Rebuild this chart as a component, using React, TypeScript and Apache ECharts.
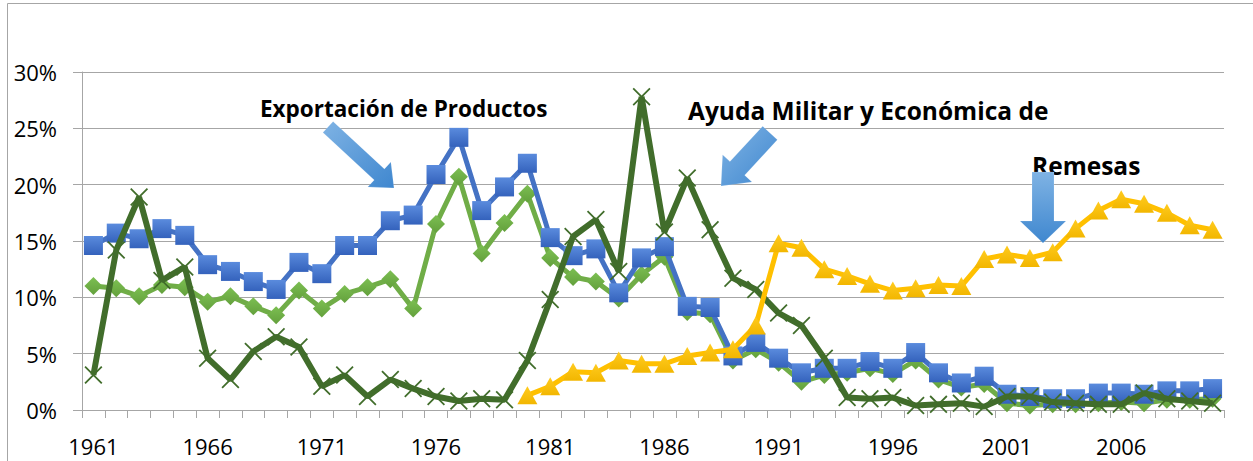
import React, { useEffect, useRef } from 'react';
import * as echarts from 'echarts';

const years = [
  '1961', '1962', '1963', '1964', '1965', '1966', '1967', '1968', '1969', '1970',
  '1971', '1972', '1973', '1974', '1975', '1976', '1977', '1978', '1979', '1980',
  '1981', '1982', '1983', '1984', '1985', '1986', '1987', '1988', '1989', '1990',
  '1991', '1992', '1993', '1994', '1995', '1996', '1997', '1998', '1999', '2000',
  '2001', '2002', '2003', '2004', '2005', '2006', '2007', '2008', '2009', '2010',
];

// Blue squares
const exportacionesTotales = [
  14.6, 15.7, 15.2, 16.1, 15.5, 12.9, 12.3, 11.4, 10.7, 13.1,
  12.1, 14.6, 14.6, 16.8, 17.3, 20.9, 24.2, 17.7, 19.8, 21.9,
  15.3, 13.7, 14.3, 10.4, 13.5, 14.5, 9.2, 9.1, 4.8, 6.0,
  4.6, 3.3, 3.7, 3.7, 4.3, 3.7, 5.1, 3.3, 2.4, 3.0,
  1.4, 1.2, 1.0, 1.0, 1.5, 1.5, 1.4, 1.7, 1.7, 1.9,
];

// Light green diamonds
const exportacionProductos = [
  11.0, 10.8, 10.1, 11.1, 10.9, 9.6, 10.1, 9.2, 8.4, 10.6,
  9.0, 10.3, 10.9, 11.6, 9.0, 16.5, 20.7, 13.9, 16.6, 19.2,
  13.5, 11.8, 11.4, 9.9, 12.0, 13.6, 8.7, 8.5, 4.4, 5.4,
  4.2, 2.5, 3.1, 3.3, 3.7, 3.2, 4.4, 2.7, 2.0, 2.3,
  0.6, 0.4, 0.5, 0.5, 0.6, 0.7, 0.6, 0.9, 0.9, 1.0,
];

// Dark green crosses
const ayudaMilitarEconomica = [
  3.1, 14.2, 18.9, 11.5, 12.7, 4.6, 2.7, 5.2, 6.5, 5.6,
  2.1, 3.1, 1.2, 2.7, 1.9, 1.2, 0.8, 1.0, 0.9, 4.4,
  9.8, 15.4, 16.9, 12.3, 27.8, 15.8, 20.6, 16.0, 11.7, 10.7,
  8.6, 7.5, 4.6, 1.1, 1.0, 1.1, 0.4, 0.5, 0.6, 0.3,
  1.2, 1.2, 0.7, 0.6, 0.5, 0.5, 1.5, 1.0, 0.8, 0.6,
];

// Yellow triangles
const remesas = [
  null, null, null, null, null, null, null, null, null, null,
  null, null, null, null, null, null, null, null, null, 1.3,
  2.1, 3.4, 3.3, 4.4, 4.1, 4.1, 4.8, 5.1, 5.4, 7.5,
  14.8, 14.4, 12.5, 11.9, 11.2, 10.6, 10.8, 11.1, 11.0, 13.4,
  13.8, 13.5, 14.0, 16.1, 17.7, 18.7, 18.3, 17.5, 16.4, 16.0,
];

const yTicks = [0, 5, 10, 15, 20, 25, 30];

const annotations = [
  { text: 'Exportación de Productos', x: 260, y: 108.5, size: 22.5 },
  { text: 'Ayuda Militar y Económica de', x: 688, y: 110.5, size: 24.5 },
  { text: 'Remesas', x: 1032, y: 165, size: 24.5 },
];

const arrowsDef = [
  { sx: 328, sy: 127, tx: 394, ty: 188, sw: 15, hw: 34, hl: 20 },
  { sx: 770, sy: 133, tx: 721, ty: 186, sw: 20, hw: 40, hl: 24 },
  { sx: 1043, sy: 172, tx: 1043, ty: 243, sw: 22, hw: 46, hl: 22 },
];

function arrowPoints(a: any) {
  const dx = a.tx - a.sx;
  const dy = a.ty - a.sy;
  const L = Math.hypot(dx, dy);
  const ux = dx / L;
  const uy = dy / L;
  const px = -uy;
  const py = ux;
  const bx = a.tx - ux * a.hl;
  const by = a.ty - uy * a.hl;
  const s = a.sw / 2;
  const h = a.hw / 2;
  return [
    [a.sx + px * s, a.sy + py * s],
    [bx + px * s, by + py * s],
    [bx + px * h, by + py * h],
    [a.tx, a.ty],
    [bx - px * h, by - py * h],
    [bx - px * s, by - py * s],
    [a.sx - px * s, a.sy - py * s],
  ];
}

const crossPath = 'path://M0,0.7L0.7,0L10,9.3L9.3,10Z M9.3,0L10,0.7L0.7,10L0,9.3Z';

export default function App() {
  const ref = useRef<HTMLDivElement>(null);
  useEffect(() => {
    if (!ref.current) return;
    const chart = echarts.init(ref.current, null, { renderer: 'svg' });
    const font = "'Open Sans', sans-serif";
    const grad = (c1: string, c2: string) =>
      new echarts.graphic.LinearGradient(0, 0, 0, 1, [
        { offset: 0, color: c1 },
        { offset: 1, color: c2 },
      ]);
    const graphic: any[] = [
      {
        type: 'rect',
        shape: { x: 7.5, y: 3.5, width: 1300, height: 500 },
        style: { fill: 'none', stroke: '#A6A6A6', lineWidth: 1 },
        silent: true,
        z: -1,
      },
    ];
    annotations.forEach((a) => {
      graphic.push({
        type: 'text',
        x: a.x,
        y: a.y,
        style: {
          text: a.text,
          fontFamily: font,
          fontWeight: 'bold',
          fontSize: a.size,
          fill: '#000',
          align: 'left',
          verticalAlign: 'middle',
        },
        z: 100,
      });
    });
    arrowsDef.forEach((a) => {
      graphic.push({
        type: 'polygon',
        shape: { points: arrowPoints(a) },
        style: {
          fill: new echarts.graphic.LinearGradient(0, 0, a.sx === a.tx ? 0 : 1, 1, [
            { offset: 0, color: '#7FB3E4' },
            { offset: 1, color: '#3F87CF' },
          ]),
          stroke: 'rgba(255,255,255,0.3)',
          lineWidth: 0.5,
        },
        z: 100,
      });
    });

    chart.setOption({
      animation: false,
      backgroundColor: '#fff',
      grid: { left: 82, right: 29, top: 72, bottom: 51, containLabel: false },
      xAxis: {
        type: 'category',
        data: years,
        boundaryGap: true,
        axisLine: { show: true, lineStyle: { color: '#A6A6A6', width: 1 } },
        axisTick: { show: true, interval: 0, length: 8, lineStyle: { color: '#A6A6A6' } },
        axisLabel: { interval: 4, fontSize: 22, fontFamily: font, color: '#000', margin: 25 },
        splitLine: { show: false },
      },
      yAxis: {
        type: 'value',
        min: yTicks[0],
        max: yTicks[yTicks.length - 1],
        interval: 5,
        axisLine: { show: true, lineStyle: { color: '#A6A6A6', width: 1 } },
        axisTick: { show: true, length: 9, lineStyle: { color: '#A6A6A6' } },
        axisLabel: { formatter: '{value}%', fontSize: 22, fontFamily: font, color: '#000', margin: 25 },
        splitLine: { show: true, lineStyle: { color: '#A6A6A6', width: 1 } },
      },
      series: [
        {
          name: 'Exportación de Productos',
          type: 'line',
          data: exportacionProductos,
          symbol: 'diamond',
          symbolSize: [18, 18],
          showAllSymbol: true,
          lineStyle: { color: '#70AD47', width: 5 },
          itemStyle: { color: grad('#7CBF52', '#63A03C') },
          z: 2,
        },
        {
          name: 'Exportaciones',
          type: 'line',
          data: exportacionesTotales,
          symbol: 'rect',
          symbolSize: 19,
          showAllSymbol: true,
          lineStyle: { color: '#4472C4', width: 5 },
          itemStyle: { color: grad('#5A8BDD', '#3462BC') },
          z: 3,
        },
        {
          name: 'Ayuda Militar y Económica',
          type: 'line',
          data: ayudaMilitarEconomica,
          symbol: crossPath,
          symbolSize: 18,
          showAllSymbol: true,
          lineStyle: { color: '#416D2B', width: 6 },
          itemStyle: { color: '#416D2B' },
          z: 4,
        },
        {
          name: 'Remesas',
          type: 'line',
          data: remesas,
          connectNulls: false,
          symbol: 'triangle',
          symbolSize: [20, 18],
          showAllSymbol: true,
          lineStyle: { color: '#FFC000', width: 5 },
          itemStyle: { color: grad('#FFCB1F', '#F2B600') },
          z: 5,
        },
      ],
      graphic,
    });
    return () => chart.dispose();
  }, []);
  return (
    <div
      ref={ref}
      style={{ position: 'absolute', left: 0, top: 0, width: 1253, height: 461 }}
    />
  );
}
